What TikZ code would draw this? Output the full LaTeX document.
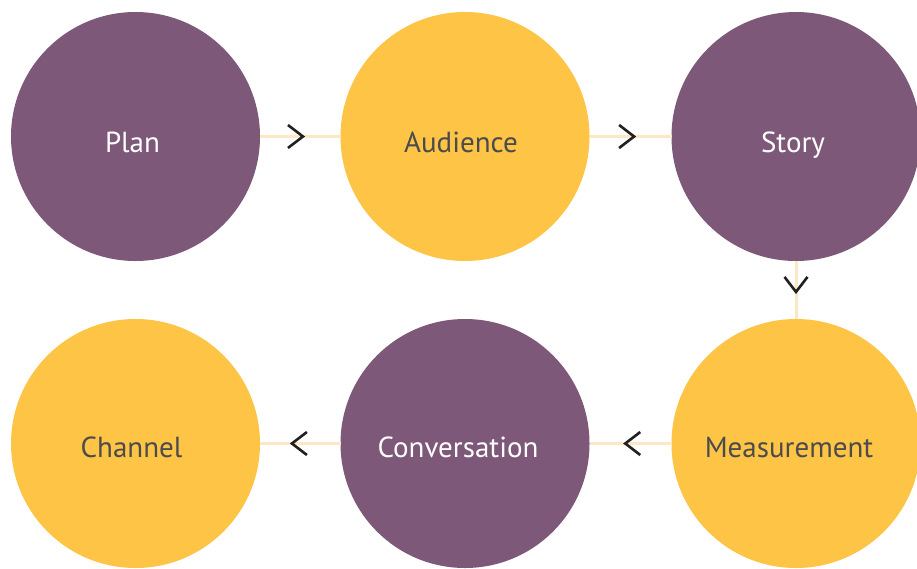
\documentclass[tikz,border=0pt]{standalone}
\usepackage{fontspec}
\setmainfont{PT Sans}
\usetikzlibrary{arrows.meta,decorations.markings}
\definecolor{plum}{HTML}{7E5878}
\definecolor{gold}{HTML}{FDC446}
\definecolor{cream}{HTML}{FCE8C4}
\definecolor{ink}{HTML}{231F20}
\definecolor{graytext}{HTML}{4B4B4D}
\tikzset{
  blob/.style={circle,minimum size=249pt,inner sep=0pt,outer sep=0pt},
  plumblob/.style={blob,fill=plum},
  goldblob/.style={blob,fill=gold},
  lbl/.style={anchor=base,font=\fontsize{29}{32}\selectfont,inner sep=0pt},
  lightlbl/.style={lbl,text=white},
  darklbl/.style={lbl,text=graytext},
  link/.style={draw=cream,line width=3pt,postaction={decorate},
    decoration={markings,mark=at position #1 with {\arrow{Straight Barb[length=15pt,width=23pt,line width=2.6pt,color=ink]}}}},
}
\begin{document}
\begin{tikzpicture}[x=1pt,y=-1pt]
\useasboundingbox (0,0) rectangle (917,568);
\clip (0,0) rectangle (917,568);
\fill[white] (0,0) rectangle (917,568);
\coordinate (p1) at (135.5,136.5);
\coordinate (p2) at (465,136.5);
\coordinate (p3) at (796,136.5);
\coordinate (p4) at (796,443.5);
\coordinate (p5) at (465,443.5);
\coordinate (p6) at (135.5,443.5);
\node[plumblob] (plan) at (p1) {};
\node[goldblob] (aud) at (p2) {};
\node[plumblob] (story) at (p3) {};
\node[goldblob] (meas) at (p4) {};
\node[plumblob] (conv) at (p5) {};
\node[goldblob] (chan) at (p6) {};
\path[link=0.56] (plan.east) -- (aud.west);
\path[link=0.57] (aud.east) -- (story.west);
\path[link=0.57] (story.south) -- (meas.north);
\path[link=0.59] (meas.west) -- (conv.east);
\path[link=0.63] (conv.west) -- (chan.east);
\node[lightlbl] (tplan) at ([xshift=-3pt,yshift=-15.5pt]plan.center) {Plan};
\node[darklbl] (taud) at ([xshift=-4pt,yshift=-15.5pt]aud.center) {Audience};
\node[lightlbl] (tstory) at ([xshift=-3pt,yshift=-15.5pt]story.center) {Story};
\node[darklbl] (tmeas) at ([xshift=-7pt,yshift=-13.5pt]meas.center) {Measurement};
\node[lightlbl] (tconv) at ([xshift=-7pt,yshift=-13.5pt]conv.center) {Conversation};
\node[darklbl] (tchan) at ([xshift=-4pt,yshift=-13.5pt]chan.center) {Channel};
\end{tikzpicture}
\end{document}
